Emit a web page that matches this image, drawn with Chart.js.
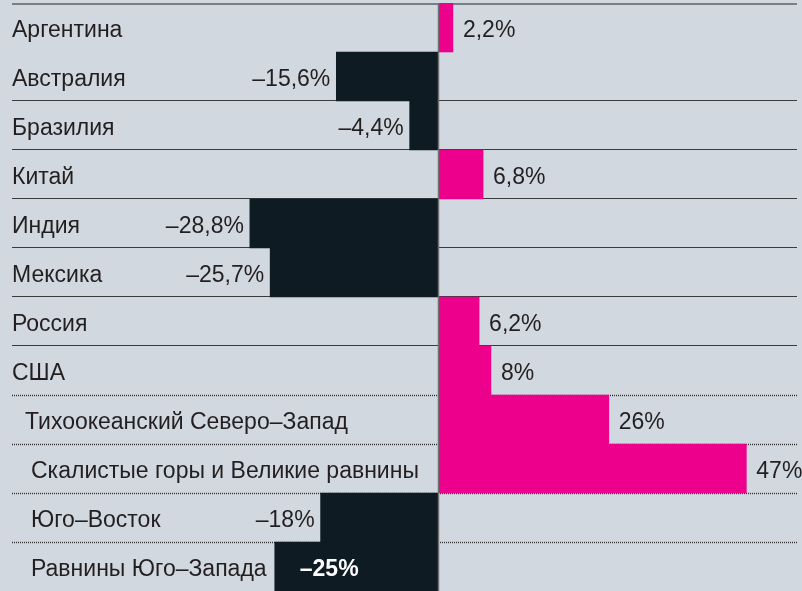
<!DOCTYPE html>
<html lang="ru">
<head>
<meta charset="utf-8">
<title>Изменение, %</title>
<script src="https://cdn.jsdelivr.net/npm/chart.js@4.4.0/dist/chart.umd.min.js"></script>
<style>
  html, body { margin: 0; padding: 0; background: #d1d8df; }
  #wrap { width: 802px; height: 591px; }
</style>
</head>
<body>
<div id="wrap"><canvas id="changeChart" width="802" height="591"></canvas></div>
<script>
// Countries, then the US regions listed under США
const categories = [
    "Аргентина", "Австралия", "Бразилия", "Китай", "Индия", "Мексика",
    "Россия", "США",
    "Тихоокеанский Северо–Запад", "Скалистые горы и Великие равнины",
    "Юго–Восток", "Равнины Юго–Запада"
];
const changes = [2.2, -15.6, -4.4, 6.8, -28.8, -25.7, 6.2, 8, 26, 47, -18, -25];

// Layout
const regionStart = 8;               // first US region row
const labelLeft = [12, 12, 12, 12, 12, 12, 12, 12, 25, 31, 31, 31];
const ruleLeft = 12;
const ruleRight = 797;
const fontFamily = '"Liberation Sans", Arial, Helvetica, sans-serif';
const fontSize = 23;
const textColor = '#231f20';
const posColor = '#ec008c';
const negColor = '#0e1b23';

function formatValue(v) {
    const s = String(Math.abs(v)).replace('.', ',') + '%';
    return v < 0 ? '–' + s : s;
}

// Horizontal rules between rows, drawn under the bars
const rowRules = {
    id: 'rowRules',
    beforeDatasetsDraw(chart) {
        const { ctx, scales: { y } } = chart;
        const step = y.getPixelForValue(1) - y.getPixelForValue(0);
        ctx.save();
        for (let i = 0; i < categories.length; i++) {
            const top = Math.round(y.getPixelForValue(i) - step / 2);
            ctx.beginPath();
            if (i === 0) {
                ctx.strokeStyle = '#7a7f84';
                ctx.lineWidth = 2;
                ctx.setLineDash([]);
                ctx.moveTo(ruleLeft, top + 1);
                ctx.lineTo(ruleRight, top + 1);
            } else if (i === 1) {
                continue;
            } else if (i < regionStart) {
                ctx.strokeStyle = '#3a3b3d';
                ctx.lineWidth = 1.2;
                ctx.setLineDash([]);
                ctx.moveTo(ruleLeft, top - 0.5);
                ctx.lineTo(ruleRight, top - 0.5);
            } else {
                ctx.strokeStyle = '#2e2f31';
                ctx.lineWidth = 1.4;
                ctx.setLineDash([1, 1]);
                ctx.moveTo(ruleLeft, top + 0.5);
                ctx.lineTo(ruleRight, top + 0.5);
            }
            ctx.stroke();
        }
        ctx.restore();
    }
};

// Category names, value labels and the zero line
const rowText = {
    id: 'rowText',
    afterDatasetsDraw(chart) {
        const { ctx, chartArea, scales: { x, y } } = chart;
        const bars = chart.getDatasetMeta(0).data;
        const zero = x.getPixelForValue(0);

        ctx.save();
        ctx.strokeStyle = '#6e7072';
        ctx.lineWidth = 1.5;
        ctx.beginPath();
        ctx.moveTo(zero, chartArea.top);
        ctx.lineTo(zero, chartArea.bottom);
        ctx.stroke();

        ctx.textBaseline = 'alphabetic';
        categories.forEach((name, i) => {
            const base = y.getPixelForValue(i) + 9;
            ctx.font = fontSize + 'px ' + fontFamily;
            ctx.fillStyle = textColor;
            ctx.textAlign = 'left';
            ctx.fillText(name, labelLeft[i], base);
            const nameRight = labelLeft[i] + ctx.measureText(name).width;

            const v = changes[i];
            const text = formatValue(v);
            const end = bars[i].x;
            if (v >= 0) {
                ctx.fillText(text, end + 10, base);
                return;
            }
            const w = ctx.measureText(text).width;
            if (end - 6 - w > nameRight + 6) {
                ctx.textAlign = 'right';
                ctx.fillText(text, end - 6, base);
            } else {
                // no room beside the bar: put it inside
                ctx.font = 'bold ' + fontSize + 'px ' + fontFamily;
                ctx.fillStyle = '#ffffff';
                ctx.fillText(text, end + 25, base);
            }
        });
        ctx.restore();
    }
};

new Chart(document.getElementById('changeChart'), {
    type: 'bar',
    data: {
        labels: categories,
        datasets: [{
            data: changes,
            backgroundColor: ctx => ctx.raw < 0 ? negColor : posColor,
            borderWidth: 0,
            barPercentage: 1,
            categoryPercentage: 1
        }]
    },
    options: {
        indexAxis: 'y',
        responsive: false,
        animation: false,
        layout: { padding: { top: 3, right: 0, bottom: 0, left: 0 } },
        plugins: {
            legend: { display: false },
            tooltip: { enabled: false }
        },
        scales: {
            x: { type: 'linear', min: -66.95, max: 55.5, display: false },
            y: { type: 'category', display: false }
        }
    },
    plugins: [rowRules, rowText]
});
</script>
</body>
</html>
